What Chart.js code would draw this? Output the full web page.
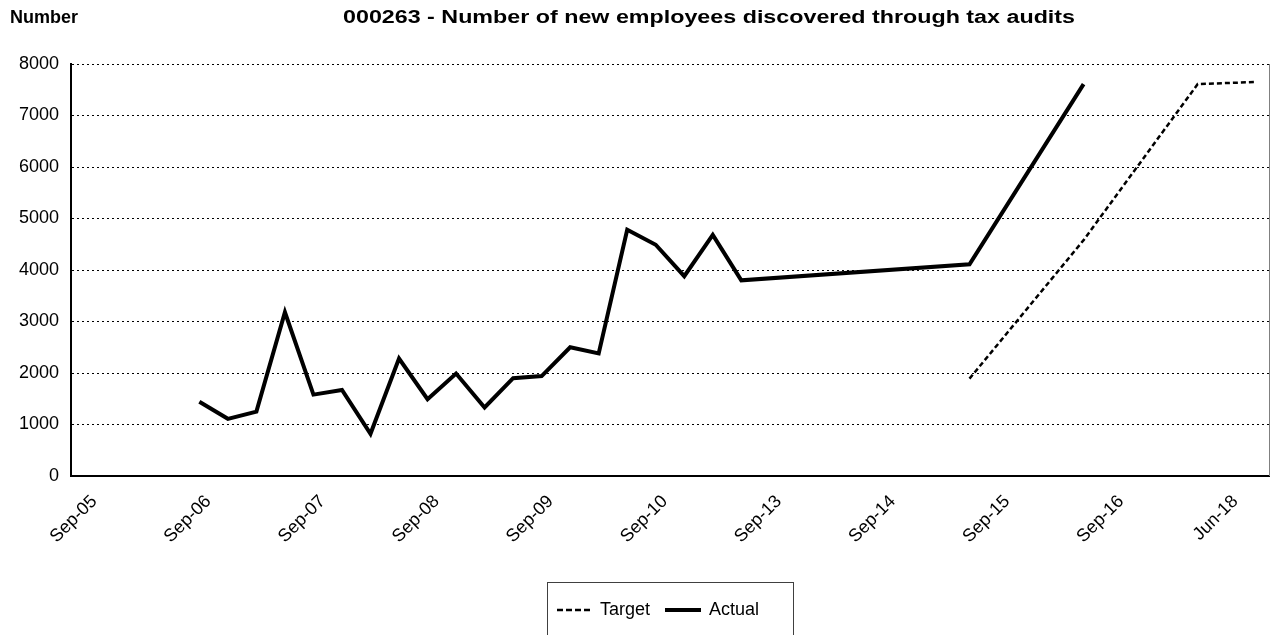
<!DOCTYPE html>
<html>
<head>
<meta charset="utf-8">
<script src="https://cdn.jsdelivr.net/npm/chart.js@4"></script>
<style>
  html, body { margin: 0; padding: 0; background: #fff; }
  #wrap { width: 1278px; height: 635px; }
</style>
</head>
<body>
<div id="wrap"><canvas id="myChart" width="1278" height="635"></canvas></div>
<script>
// Данные графика
const yTitle = 'Number';
const chartTitle = '000263 - Number of new employees discovered through tax audits';

const categories = [
    'Sep-05', 'Dec-05', 'Mar-06', 'Jun-06',
    'Sep-06', 'Dec-06', 'Mar-07', 'Jun-07',
    'Sep-07', 'Dec-07', 'Mar-08', 'Jun-08',
    'Sep-08', 'Dec-08', 'Mar-09', 'Jun-09',
    'Sep-09', 'Dec-09', 'Mar-10', 'Jun-10',
    'Sep-10', 'Dec-10', 'Mar-11', 'Jun-11',
    'Sep-13', 'Dec-13', 'Mar-14', 'Jun-14',
    'Sep-14', 'Dec-14', 'Mar-15', 'Jun-15',
    'Sep-15', 'Dec-15', 'Mar-16', 'Jun-16',
    'Sep-16', 'Dec-16', 'Jun-17', 'Dec-17',
    'Jun-18', 'Dec-18'
];

const tickLabels = ['Sep-05', 'Sep-06', 'Sep-07', 'Sep-08', 'Sep-09', 'Sep-10',
    'Sep-13', 'Sep-14', 'Sep-15', 'Sep-16', 'Jun-18'];

const targetValues = [
    null, null, null, null, null, null, null, null, null, null,
    null, null, null, null, null, null, null, null, null, null,
    null, null, null, null, null, null, null, null, null, null,
    null, 1890, null, null, null, 4580, null, null, null, 7610,
    null, 7650
];

const actualValues = [
    null, null, null, null, 1440, 1110, 1250, 3180, 1580, 1670,
    820, 2280, 1490, 1990, 1330, 1900, 1940, 2500, 2380, 4780,
    4490, 3880, 4680, 3800, null, null, null, null, null, null,
    null, 4110, null, null, null, 7610, null, null, null, null,
    null, null
];

const yMin = 0;
const yMax = 8000;
const yStep = 1000;

const fontFamily = '"Liberation Sans", Arial, sans-serif';
Chart.defaults.font.family = fontFamily;
Chart.defaults.color = '#000';

// Значки легенды: пунктир и сплошная линия
const makeLegendIcon = (width, lineWidth, dash) => {
    const c = document.createElement('canvas');
    c.width = width;
    c.height = 8;
    const g = c.getContext('2d');
    g.strokeStyle = '#000';
    g.lineWidth = lineWidth;
    g.setLineDash(dash);
    g.beginPath();
    g.moveTo(0, 4);
    g.lineTo(width, 4);
    g.stroke();
    return c;
};
const legendIcons = [
    makeLegendIcon(34, 2.5, [6, 3]),
    makeLegendIcon(36, 4, [])
];

// Рамка легенды, правая граница и заголовки
const decorPlugin = {
    id: 'decor',
    afterLayout(chart) {
        const lg = chart.legend;
        lg.adjustHitBoxes();
        const shift = 557 - lg.legendHitBoxes[0].left;
        lg.left += shift;
        lg.right += shift;
        lg.adjustHitBoxes();
    },
    afterDraw(chart) {
        const { ctx, chartArea } = chart;
        ctx.save();
        ctx.strokeStyle = '#808080';
        ctx.lineWidth = 1;
        ctx.beginPath();
        ctx.moveTo(chartArea.right + 0.5, chartArea.top);
        ctx.lineTo(chartArea.right + 0.5, chartArea.bottom);
        ctx.stroke();

        const boxes = chart.legend.legendHitBoxes;
        const first = boxes[0];
        const last = boxes[boxes.length - 1];
        const left = Math.round(first.left - 10) + 0.5;
        const right = Math.round(last.left + last.width + 34) + 0.5;
        ctx.strokeStyle = '#404040';
        ctx.strokeRect(left, 582.5, right - left, 80);

        ctx.fillStyle = '#000';
        ctx.font = 'bold 18px ' + fontFamily;
        ctx.textBaseline = 'alphabetic';
        ctx.textAlign = 'left';
        ctx.fillText(yTitle, 10, 23);
        const w = ctx.measureText(chartTitle).width;
        ctx.translate(343, 23);
        ctx.scale(732 / w, 1);
        ctx.fillText(chartTitle, 0, 0);
        ctx.restore();
    }
};

const ctx = document.getElementById('myChart').getContext('2d');
const myChart = new Chart(ctx, {
    type: 'line',
    data: {
        labels: categories,
        datasets: [{
            label: 'Target',
            data: targetValues,
            borderColor: '#000',
            backgroundColor: '#000',
            borderWidth: 2.5,
            borderDash: [5, 3],
            pointRadius: 0,
            spanGaps: true,
            tension: 0
        }, {
            label: 'Actual',
            data: actualValues,
            borderColor: '#000',
            backgroundColor: '#000',
            borderWidth: 4,
            pointRadius: 0,
            spanGaps: true,
            tension: 0
        }]
    },
    options: {
        responsive: false,
        animation: false,
        layout: {
            padding: { left: 0, right: 9, top: 64, bottom: 6 }
        },
        plugins: {
            title: { display: false },
            tooltip: { enabled: false },
            legend: {
                display: true,
                position: 'bottom',
                labels: {
                    usePointStyle: true,
                    pointStyleWidth: 34,
                    padding: 16,
                    color: '#000',
                    font: { size: 18 },
                    generateLabels: function (chart) {
                        const items = Chart.defaults.plugins.legend.labels.generateLabels(chart);
                        items.forEach((item, i) => { item.pointStyle = legendIcons[i]; });
                        return items;
                    }
                }
            }
        },
        scales: {
            x: {
                offset: true,
                grid: { drawOnChartArea: false, drawTicks: false },
                border: { display: true, color: '#000', width: 2 },
                ticks: {
                    autoSkip: false,
                    maxRotation: 45,
                    minRotation: 45,
                    labelOffset: 9,
                    padding: 15,
                    color: '#000',
                    font: { size: 18 },
                    callback: function (value, index) {
                        const lbl = categories[index];
                        return tickLabels.includes(lbl) ? lbl : '';
                    }
                },
                afterFit: function (scale) {
                    scale.height = 109;
                    scale.paddingLeft = 0;
                    scale.paddingRight = 0;
                }
            },
            y: {
                min: yMin,
                max: yMax,
                grid: { color: '#000', lineWidth: 1, drawTicks: false },
                border: { display: true, color: '#000', width: 2, dash: [2, 3] },
                ticks: {
                    stepSize: yStep,
                    padding: 12,
                    color: '#000',
                    font: { size: 18 },
                    callback: function (value) {
                        return String(value);
                    }
                },
                afterFit: function (scale) {
                    scale.width = 71;
                }
            }
        }
    },
    plugins: [decorPlugin]
});
</script>
</body>
</html>
